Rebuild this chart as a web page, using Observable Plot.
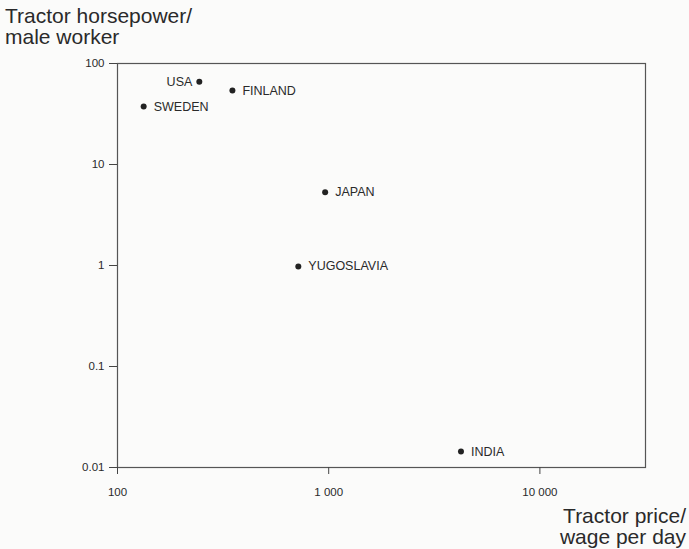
<!DOCTYPE html>
<html>
<head>
<meta charset="utf-8">
<script src="https://cdn.jsdelivr.net/npm/d3@7"></script>
<script src="https://cdn.jsdelivr.net/npm/@observablehq/plot@0.6"></script>
<style>
  html, body { margin: 0; padding: 0; background: #fbfbfa; }
  #wrap { position: relative; width: 689px; height: 549px; font-family: "Liberation Sans", Arial, sans-serif; color: #2a2a2a; }
  .ylab { position: absolute; left: 5px; top: 5px; font-size: 21px; line-height: 21px; }
  .xlab { position: absolute; right: 3px; top: 505px; font-size: 21px; line-height: 21px; text-align: right; }
</style>
</head>
<body>
<div id="wrap">
  <div class="ylab">Tractor horsepower/<br>male worker</div>
  <div class="xlab">Tractor price/<br>wage per day</div>
</div>
<script>
const countries = ["USA", "FINLAND", "SWEDEN", "JAPAN", "YUGOSLAVIA", "INDIA"];
const tractorPrice = [244, 350, 133, 962, 718, 4230];
const horsepower = [66, 54, 37.5, 5.3, 0.98, 0.0144];
const labelSide = ["left", "right", "right", "right", "right", "right"];
const xTicks = [100, 1000, 10000];
const yTicks = [0.01, 0.1, 1, 10, 100];

const data = countries.map((c, i) => ({country: c, x: tractorPrice[i], y: horsepower[i], side: labelSide[i]}));
const fmt = d => d3.format(",")(d).replace(/,/g, " ");

const chart = Plot.plot({
  width: 689,
  height: 549,
  marginLeft: 117,
  marginTop: 63,
  marginRight: 44,
  marginBottom: 82,
  style: {background: "transparent", fontFamily: "Liberation Sans, Arial, sans-serif", fontSize: "11.5px", color: "#2a2a2a"},
  x: {type: "log", domain: [100, 31623]},
  y: {type: "log", domain: [0.01, 100]},
  marks: [
    Plot.frame({stroke: "#555", strokeWidth: 1.2}),
    Plot.axisX({ticks: xTicks, tickFormat: fmt, tickSize: 7, tickPadding: 13, label: null, stroke: "#444"}),
    Plot.axisY({ticks: yTicks, tickFormat: d => String(d), tickSize: 8, tickPadding: 5, label: null, stroke: "#444"}),
    Plot.dot(data, {x: "x", y: "y", r: 3, fill: "#222", stroke: null}),
    Plot.text(data.filter(d => d.side === "right"), {x: "x", y: "y", text: "country", textAnchor: "start", dx: 10, fill: "#2a2a2a", fontSize: 12.5}),
    Plot.text(data.filter(d => d.side === "left"), {x: "x", y: "y", text: "country", textAnchor: "end", dx: -7, fill: "#2a2a2a", fontSize: 12.5})
  ]
});
chart.style.position = "absolute";
chart.style.left = "0px";
chart.style.top = "0px";
document.getElementById("wrap").appendChild(chart);
</script>
</body>
</html>
